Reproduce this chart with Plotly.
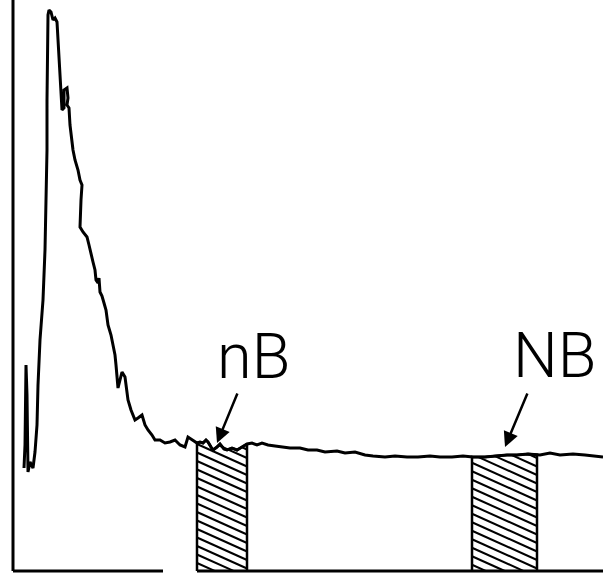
import numpy as np
import plotly.graph_objects as go

# channel (x) and counts (y)
channel = [11, 12, 13, 14, 15, 17, 20, 22, 24, 25, 27, 29, 30, 32, 33, 34, 34, 35, 35, 36, 38, 40, 42, 44,
           45, 46, 47, 48, 49, 49, 51, 51, 54, 55, 54, 56, 57, 59, 60, 62, 65, 67, 69, 68, 67, 70, 74, 76,
           78, 80, 82, 83, 85, 86, 87, 89, 91, 93, 95, 98, 100, 102, 103, 104, 105, 107, 109, 112, 114, 115,
           118, 122, 125, 129, 132, 135, 139, 142, 147, 152, 157, 162, 167, 172, 175, 180, 184, 187, 190, 193,
           195, 198, 200, 204, 207, 211, 214, 219, 224, 229, 234, 239, 244, 249, 255, 262, 270, 277, 287, 295,
           304, 312, 324, 332, 342, 352, 360, 372, 382, 394, 405, 417, 427, 439, 450, 460, 472, 482, 494, 504,
           515, 527, 537, 547, 560, 572, 582, 590]
counts = [103, 126, 206, 176, 99, 109, 103, 119, 146, 186, 231, 256, 271, 321, 371, 421, 471, 521, 556, 561,
          559, 551, 553, 549, 531, 516, 501, 486, 471, 461, 463, 481, 483, 473, 466, 463, 446, 426, 421, 411,
          401, 391, 386, 371, 344, 339, 334, 326, 316, 309, 301, 291, 288, 293, 279, 275, 268, 261, 246, 236,
          226, 216, 206, 196, 183, 191, 199, 194, 179, 171, 161, 151, 153, 156, 146, 141, 136, 131, 131, 128,
          129, 131, 126, 124, 134, 131, 128, 129, 128, 131, 129, 124, 121, 124, 127, 122, 121, 123, 121, 124,
          127, 128, 126, 128, 126, 125, 124, 123, 123, 121, 121, 119, 120, 118, 119, 116, 115, 114, 115, 114,
          114, 115, 114, 114, 115, 114, 114, 115, 116, 116, 117, 116, 118, 116, 117, 116, 115, 114]

# integration windows
window_labels = ["nB", "NB"]
window_start = [184, 459]
window_end = [234, 524]
label_x = [240, 541]
label_y = [215, 216]
arrow_tail_x = [225, 515]
arrow_tail_y = [179, 179]
arrow_head_x = [204, 492]
arrow_head_y = [128, 124]

cx = np.array(channel, dtype=float)
cy = np.array(counts, dtype=float)

fig = go.Figure()

# hatched windows
for x0, x1 in zip(window_start, window_end):
    inside = (cx > x0) & (cx < x1)
    xs = [x0, x0] + list(cx[inside]) + [x1, x1]
    ys = [0, float(np.interp(x0, cx, cy))] + list(cy[inside]) + [float(np.interp(x1, cx, cy)), 0]
    fig.add_trace(go.Scatter(x=xs, y=ys, mode="lines", fill="toself", fillcolor="white",
                             line=dict(color="black", width=2.5), hoverinfo="skip", showlegend=False))
    hx, hy = [], []
    xx = np.linspace(x0, x1, 120)
    top = np.interp(xx, cx, cy)
    slope = 0.45
    for c in np.arange(-40, 200, 8.5):
        yy = c + slope * (x1 - xx)
        ok = (yy >= 0) & (yy <= top)
        if ok.sum() < 2:
            continue
        hx += list(xx[ok]) + [None]
        hy += list(yy[ok]) + [None]
    fig.add_trace(go.Scatter(x=hx, y=hy, mode="lines", line=dict(color="black", width=2),
                             hoverinfo="skip", showlegend=False))

# spectrum trace
fig.add_trace(go.Scatter(x=channel, y=counts, mode="lines",
                         line=dict(color="black", width=3), showlegend=False))

font = dict(family="Roboto, Liberation Sans, sans-serif", size=63, color="black", weight=300)
for lab, lx, ly, tx, ty, hx_, hy_ in zip(window_labels, label_x, label_y,
                                          arrow_tail_x, arrow_tail_y, arrow_head_x, arrow_head_y):
    fig.add_annotation(x=lx, y=ly, text=lab, showarrow=False, font=font)
    fig.add_annotation(x=hx_, y=hy_, ax=tx, ay=ty, axref="x", ayref="y", text="",
                       showarrow=True, arrowhead=2, arrowsize=1.2, arrowwidth=2.5, arrowcolor="black")

# axis lines (bottom line has a gap before the first window)
fig.add_shape(type="line", x0=0, x1=0, y0=0, y1=574, line=dict(color="black", width=3))
fig.add_shape(type="line", x0=0, x1=150, y0=0, y1=0, line=dict(color="black", width=3))
fig.add_shape(type="line", x0=window_start[0], x1=590, y0=0, y1=0, line=dict(color="black", width=3))

fig.update_layout(
    width=603, height=574,
    margin=dict(l=10, r=0, t=0, b=0),
    plot_bgcolor="white", paper_bgcolor="white",
    xaxis=dict(range=[-3, 590], visible=False),
    yaxis=dict(range=[-3, 571], visible=False),
)
fig.write_html("out.html", config={"displayModeBar": False},
               post_script="document.body.style.margin='0';")
